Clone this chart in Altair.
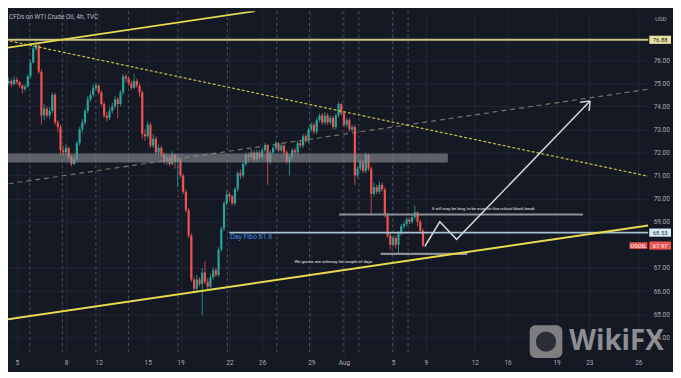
import json
import altair as alt
import pandas as pd

# ---------------- data ----------------
tick_days = [0, 3, 5, 8, 10, 13, 15, 18, 20, 23, 25, 28, 30, 33, 35, 38]
tick_labels = ["5", "8", "12", "15", "19", "22", "26", "29", "Aug", "5", "9", "12", "16", "19", "23", "26"]
price_ticks = [64, 65, 66, 67, 69, 70, 71, 72, 73, 74, 75, 76]

opens = [75.00, 75.10, 74.95, 75.15, 75.05, 74.90, 74.75, 74.85, 75.30, 75.90,
         76.50, 76.65, 75.50, 73.60, 73.90, 73.60, 73.80, 74.50, 73.30, 73.10,
         72.10, 72.00, 72.20, 71.80, 71.50, 71.70, 72.40, 73.00, 73.30, 73.80,
         74.30, 74.50, 74.80, 74.90, 74.60, 74.10, 73.60, 73.50, 73.80, 74.00,
         74.30, 74.10, 74.60, 75.30, 75.20, 75.00, 74.80, 75.10, 74.90, 74.60,
         72.80, 72.70, 73.20, 72.30, 72.60, 72.00, 72.20, 71.90, 71.60, 71.80,
         71.50, 71.90, 71.60, 71.70, 71.00, 70.30, 69.50, 68.40, 66.50, 66.10,
         66.50, 66.30, 66.80, 66.40, 66.20, 66.60, 66.90, 66.70, 67.80, 68.70,
         69.80, 70.20, 70.10, 69.80, 70.40, 71.10, 71.00, 71.50, 71.90, 71.80,
         72.00, 71.70, 72.00, 71.80, 72.10, 72.30, 71.60, 72.00, 72.20, 72.40,
         72.10, 72.30, 72.00, 71.60, 71.80, 72.10, 72.00, 72.40, 72.30, 72.70,
         72.50, 73.00, 73.20, 72.90, 73.40, 73.60, 73.30, 73.60, 73.30, 73.50,
         73.10, 73.60, 74.10, 73.70, 73.20, 73.40, 73.00, 73.10, 71.00, 71.30,
         71.60, 71.20, 71.90, 71.30, 70.20, 70.50, 70.30, 70.60, 70.40, 69.30,
         68.40, 68.00, 68.30, 68.00, 68.50, 68.80, 68.90, 69.10, 69.00, 69.20,
         69.40, 69.00, 68.60]
highs = [75.25, 75.20, 75.30, 75.25, 75.10, 74.95, 74.95, 75.40, 76.00, 76.65,
         76.85, 76.75, 75.60, 74.10, 74.00, 73.95, 74.60, 74.60, 73.40, 73.20,
         72.30, 72.35, 72.25, 71.90, 71.85, 72.50, 73.10, 73.45, 73.90, 74.45,
         74.65, 74.95, 75.00, 74.95, 74.70, 74.20, 73.75, 73.95, 74.15, 74.45,
         74.40, 74.70, 75.40, 75.40, 75.30, 75.10, 75.40, 75.20, 75.00, 74.70,
         73.00, 73.35, 73.30, 72.80, 72.70, 72.35, 72.30, 72.00, 71.95, 71.90,
         72.05, 71.95, 71.85, 71.75, 71.10, 70.40, 69.60, 68.50, 66.60, 66.70,
         66.60, 67.00, 67.30, 66.55, 66.75, 67.05, 67.00, 67.90, 68.80, 69.90,
         70.35, 70.30, 70.15, 70.50, 71.20, 71.25, 71.60, 72.00, 72.00, 72.15,
         72.10, 72.10, 72.10, 72.20, 72.40, 72.35, 72.10, 72.30, 72.50, 72.45,
         72.40, 72.35, 72.10, 71.90, 72.20, 72.20, 72.50, 72.50, 72.80, 72.80,
         73.10, 73.30, 73.30, 73.50, 73.70, 73.70, 73.75, 73.70, 73.60, 73.60,
         73.70, 74.20, 74.15, 73.80, 73.50, 73.50, 73.20, 73.20, 71.40, 71.70,
         71.65, 72.00, 71.95, 71.40, 70.70, 70.60, 70.75, 70.70, 70.50, 69.40,
         68.50, 68.40, 68.40, 68.60, 68.90, 69.00, 69.20, 69.20, 69.30, 69.70,
         69.45, 69.10, 68.70]
lows = [74.90, 74.85, 74.90, 74.95, 74.80, 74.55, 74.65, 74.80, 75.20, 75.85,
        76.40, 75.40, 73.20, 73.40, 73.50, 73.45, 73.70, 73.20, 72.90, 71.90,
        71.85, 71.90, 71.70, 71.40, 71.45, 71.60, 72.30, 72.85, 73.20, 73.70,
        74.20, 74.40, 74.70, 74.50, 74.00, 73.50, 73.35, 73.40, 73.70, 73.90,
        73.50, 74.00, 74.50, 75.05, 74.90, 74.70, 74.75, 74.80, 74.40, 72.60,
        72.50, 72.60, 72.20, 72.20, 71.90, 71.90, 71.80, 71.50, 71.45, 71.40,
        71.45, 71.30, 70.50, 70.90, 70.20, 69.40, 68.30, 66.40, 65.97, 66.00,
        66.20, 64.95, 66.30, 66.05, 66.10, 66.50, 66.60, 66.60, 67.70, 68.60,
        69.70, 69.90, 69.70, 69.70, 70.30, 70.85, 70.90, 71.40, 71.60, 71.70,
        71.60, 71.60, 71.70, 71.70, 72.00, 70.60, 71.50, 71.90, 72.10, 72.00,
        72.00, 71.90, 71.50, 71.00, 71.70, 71.90, 71.90, 72.20, 72.20, 72.40,
        72.40, 72.90, 72.80, 72.80, 73.30, 73.20, 73.20, 73.20, 73.20, 73.00,
        73.00, 73.50, 73.60, 73.10, 73.10, 72.90, 72.90, 70.60, 70.90, 71.20,
        71.10, 71.10, 71.20, 69.35, 70.10, 70.20, 70.20, 70.30, 69.20, 68.30,
        67.80, 67.90, 67.85, 67.60, 68.40, 68.70, 68.80, 68.90, 68.90, 69.10,
        68.80, 68.50, 67.90]
closes = [75.10, 74.95, 75.15, 75.05, 74.90, 74.75, 74.85, 75.30, 75.90, 76.50,
          76.65, 75.50, 73.60, 73.90, 73.60, 73.80, 74.50, 73.30, 73.10, 72.10,
          72.00, 72.20, 71.80, 71.50, 71.70, 72.40, 73.00, 73.30, 73.80, 74.30,
          74.50, 74.80, 74.90, 74.60, 74.10, 73.60, 73.50, 73.80, 74.00, 74.30,
          74.10, 74.60, 75.30, 75.20, 75.00, 74.80, 75.10, 74.90, 74.60, 72.80,
          72.70, 73.20, 72.30, 72.60, 72.00, 72.20, 71.90, 71.60, 71.80, 71.50,
          71.90, 71.60, 71.70, 71.00, 70.30, 69.50, 68.40, 66.50, 66.10, 66.50,
          66.30, 66.80, 66.40, 66.20, 66.60, 66.90, 66.70, 67.80, 68.70, 69.80,
          70.20, 70.10, 69.80, 70.40, 71.10, 71.00, 71.50, 71.90, 71.80, 72.00,
          71.70, 72.00, 71.80, 72.10, 72.30, 71.60, 72.00, 72.20, 72.40, 72.10,
          72.30, 72.00, 71.60, 71.80, 72.10, 72.00, 72.40, 72.30, 72.70, 72.50,
          73.00, 73.20, 72.90, 73.40, 73.60, 73.30, 73.60, 73.30, 73.50, 73.10,
          73.60, 74.10, 73.70, 73.20, 73.40, 73.00, 73.10, 71.00, 71.30, 71.60,
          71.20, 71.90, 71.30, 70.20, 70.50, 70.30, 70.60, 70.40, 69.30, 68.40,
          68.00, 68.30, 68.00, 68.50, 68.80, 68.90, 69.10, 69.00, 69.20, 69.40,
          69.00, 68.60, 67.97]

# trend lines: (day, price) -> (day, price)
rise_top = [(-1.03, 76.49), (14.56, 78.12)]
fall_line = [(-1.03, 76.92), (38.61, 70.97)]
support_line = [(-1.03, 64.73), (38.61, 68.84)]
gray_trend = [(-1.03, 70.59), (38.61, 74.74)]
resistance_level = 76.88
zone = {"d0": -1.03, "d1": 26.35, "p0": 71.57, "p1": 71.96}
level_top = {"d0": 19.70, "d1": 34.62, "p": 69.31}
fibo = {"d0": 12.99, "d1": 38.61, "p": 68.53}
level_low = {"d0": 22.24, "d1": 27.55, "p": 67.61}
path_days = [24.95, 25.86, 26.89, 35.05]
path_prices = [67.94, 69.00, 68.24, 74.23]
arrow_heads = [(34.44, 74.18), (34.99, 73.80)]
session_breaks = [0.79, 2.78, 4.83, 6.83, 9.85, 12.87, 15.89, 17.89, 19.94, 20.91, 22.96, 23.92]
last_price = 67.97

# ---------------- styling ----------------
BG = "#151924"
UP = "#26a69a"
DOWN = "#ef5350"
FONT = "Roboto"
TXT = "#a9acb5"

xs = alt.Scale(domain=[-0.544, 38.61], nice=False, zero=False)
ys = alt.Scale(domain=[63.23, 78.12], nice=False, zero=False)

label_expr = "%s[indexof(%s, datum.value)]" % (json.dumps(tick_labels), json.dumps(tick_days))
x_axis = alt.Axis(values=tick_days, labelExpr=label_expr, grid=True, gridColor="#222633",
                  gridWidth=1, domain=False, ticks=False, labelColor=TXT, labelFontSize=6.5,
                  labelFont=FONT, labelPadding=5, labelFlush=False, labelOverlap=False, title=None)
y_axis = alt.Axis(orient="right", values=price_ticks, format=".2f", grid=True, gridColor="#222633",
                  gridWidth=1, domain=False, ticks=False, labelColor=TXT, labelFontSize=6.5,
                  labelFont=FONT, labelPadding=5, labelOverlap=False, title=None)


def X(f):
    return alt.X(f, type="quantitative", scale=xs, axis=x_axis)


def Y(f):
    return alt.Y(f, type="quantitative", scale=ys, axis=y_axis)


n = len(closes)
t = [-0.5 + i / 6 for i in range(n)]
candles = pd.DataFrame({"t": t, "open": opens, "high": highs, "low": lows, "close": closes})
candles["dir"] = ["up" if c >= o else "down" for o, c in zip(opens, closes)]
color = alt.Color("dir:N", scale=alt.Scale(domain=["up", "down"], range=[UP, DOWN]), legend=None)

layers = []

# session break dashed verticals
sb = pd.DataFrame({"t": session_breaks})
layers.append(alt.Chart(sb).mark_rule(color="#4b505d", strokeWidth=1, strokeDash=[3, 3]).encode(
    x=X("t"), y=alt.value(0), y2=alt.value(348)))


def seg_df(pts):
    return pd.DataFrame({"x": [pts[0][0]], "y": [pts[0][1]], "x2": [pts[1][0]], "y2": [pts[1][1]]})


def seg_layer(pts, **kw):
    return alt.Chart(seg_df(pts)).mark_rule(clip=True, **kw).encode(
        x=X("x"), y=Y("y"), x2="x2", y2="y2")


# gray dashed trend
layers.append(seg_layer(gray_trend, color="#777565", strokeWidth=1.2, strokeDash=[5, 4]))

# candles
base = alt.Chart(candles)
layers.append(base.mark_rule(strokeWidth=0.8).encode(x=X("t"), y=Y("low"), y2="high", color=color))
layers.append(base.mark_rule(strokeWidth=2.2).encode(x=X("t"), y=Y("open"), y2="close", color=color))

# zone
zdf = pd.DataFrame([zone])
layers.append(alt.Chart(zdf).mark_rect(color="#8e8f94", opacity=0.6, clip=True).encode(
    x=X("d0"), x2="d1", y=Y("p0"), y2="p1"))


# horizontal levels
def hline(d, col, w):
    df = pd.DataFrame({"x": [d["d0"]], "x2": [d["d1"]], "y": [d["p"]]})
    return alt.Chart(df).mark_rule(color=col, strokeWidth=w, clip=True).encode(
        x=X("x"), x2="x2", y=Y("y"))


layers.append(hline(level_top, "#8d8f94", 2))
layers.append(hline(fibo, "#a7c2d2", 1.6))
layers.append(hline(level_low, "#8d8f94", 2.2))

# resistance 76.88
rdf = pd.DataFrame({"y": [resistance_level]})
layers.append(alt.Chart(rdf).mark_rule(color="#c9c384", strokeWidth=2.2).encode(
    y=Y("y"), x=alt.value(0), x2=alt.value(648)))

# yellow trend lines
layers.append(seg_layer(rise_top, color="#e6dc4e", strokeWidth=1.8))
layers.append(seg_layer(fall_line, color="#c9c046", strokeWidth=1.2, strokeDash=[3, 2]))
layers.append(seg_layer(support_line, color="#e6dc4e", strokeWidth=2))

# projection path + arrow head
pdf = pd.DataFrame({"x": path_days, "y": path_prices, "o": list(range(len(path_days)))})
layers.append(alt.Chart(pdf).mark_line(color="#d4d6db", strokeWidth=1.5, clip=True).encode(
    x=X("x"), y=Y("y"), order="o"))
for hx, hy in arrow_heads:
    layers.append(seg_layer([(path_days[-1], path_prices[-1]), (hx, hy)], color="#d4d6db", strokeWidth=1.5))


# annotation texts
def note(d, p, s, col, size, weight="normal"):
    df = pd.DataFrame({"x": [d], "y": [p], "s": [s]})
    return alt.Chart(df).mark_text(align="left", baseline="middle", color=col, fontSize=size,
                                   font=FONT, fontWeight=weight).encode(x=X("x"), y=Y("y"), text="s")


layers.append(note(13.05, 68.32, "Day Fibo 61.8", "#3d8ee6", 7))
layers.append(note(25.38, 69.56, "It will may be long, to be sure for this critical black break", "#e8e8e8", 4.2))
layers.append(note(16.98, 67.25, "We gonna see sideway for couple of days", "#e8e8e8", 4.3))

# title
tdf = pd.DataFrame({"s": ["CFDs on WTI Crude Oil, 4h, TVC"]})
layers.append(alt.Chart(tdf).mark_text(align="left", baseline="middle", color="#b8bbc4", fontSize=6.5,
                                       font=FONT).encode(x=alt.value(1), y=alt.value(6), text="s"))
udf = pd.DataFrame({"s": ["USD"]})
layers.append(alt.Chart(udf).mark_text(align="left", baseline="middle", color=TXT, fontSize=6,
                                       font=FONT).encode(x=alt.value(655), y=alt.value(8), text="s"))

# price label boxes on the scale
BOX = "M-1,-0.375H1V0.375H-1Z"


def price_box(p, txt, fill, tcol, cx, w):
    df = pd.DataFrame({"y": [p], "s": [txt]})
    size = (w / 2) ** 2 * 4
    box = alt.Chart(df).mark_point(shape=BOX, filled=True, fill=fill, opacity=1, strokeWidth=0,
                                   size=size).encode(x=alt.value(cx), y=Y("y"))
    lab = alt.Chart(df).mark_text(align="center", baseline="middle", color=tcol, fontSize=6,
                                  font=FONT).encode(x=alt.value(cx), y=Y("y"), text="s")
    return [box, lab]


layers += price_box(resistance_level, "76.88", "#e8e3a2", "#222222", 660, 22)
layers += price_box(fibo["p"], "68.53", "#d6ecf4", "#333333", 660, 22)
layers += price_box(last_price, "67.97", DOWN, "#ffffff", 660, 22)
layers += price_box(last_price, "USOIL", DOWN, "#ffffff", 638, 18)

# watermark
wm = pd.DataFrame({"s": ["WikiFX"]})
layers.append(alt.Chart(wm).mark_rect(color="#8a8a8c", cornerRadius=6, opacity=0.9).encode(
    x=alt.value(528), x2=alt.value(561), y=alt.value(318), y2=alt.value(351)))
layers.append(alt.Chart(wm).mark_point(shape="circle", filled=True, color="#2b2e36", size=420, opacity=1).encode(
    x=alt.value(544.5), y=alt.value(334.5)))
layers.append(alt.Chart(wm).mark_text(align="left", baseline="middle", color="#9c9c9e", fontSize=28,
                                      font="Open Sans", fontWeight="bold", opacity=0.9).encode(
    x=alt.value(568), y=alt.value(335), text="s"))

chart = alt.layer(*layers).properties(
    width=648, height=348,
    autosize=alt.AutoSizeParams(type="none"),
    padding={"left": 0, "top": 1, "right": 25, "bottom": 15},
    background=BG,
).configure_view(stroke=None)

chart.save("out.html", embed_options={"renderer": "svg", "actions": False})
